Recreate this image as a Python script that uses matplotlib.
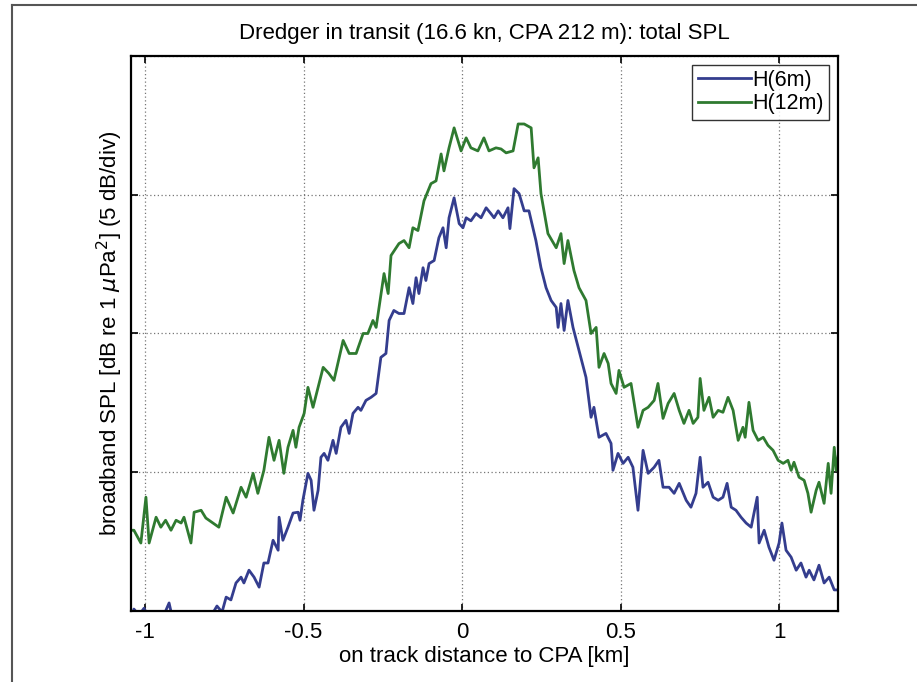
import numpy as np
import matplotlib.pyplot as plt
from matplotlib.lines import Line2D

# on-track distance to CPA [km] and broadband SPL (dB, relative to the lower axis edge)
dist_6m = [-1.041, -1.035, -1.019, -1.003, -0.987, -0.950, -0.924, -0.912, -0.855, -0.808,
           -0.773, -0.757, -0.744, -0.729, -0.713, -0.697, -0.688, -0.672, -0.656, -0.640,
           -0.625, -0.612, -0.596, -0.580, -0.577, -0.565, -0.549, -0.533, -0.517, -0.511,
           -0.502, -0.486, -0.476, -0.467, -0.454, -0.445, -0.435, -0.423, -0.407, -0.397,
           -0.382, -0.366, -0.356, -0.344, -0.328, -0.319, -0.303, -0.287, -0.271, -0.256,
           -0.240, -0.230, -0.215, -0.199, -0.183, -0.167, -0.155, -0.145, -0.136, -0.123,
           -0.114, -0.104, -0.088, -0.073, -0.060, -0.050, -0.041, -0.025, -0.009, 0.003,
           0.013, 0.028, 0.044, 0.060, 0.076, 0.091, 0.101, 0.114, 0.129, 0.145,
           0.151, 0.164, 0.180, 0.196, 0.211, 0.233, 0.249, 0.265, 0.281, 0.297,
           0.303, 0.312, 0.322, 0.334, 0.350, 0.369, 0.391, 0.407, 0.416, 0.432,
           0.454, 0.470, 0.476, 0.492, 0.508, 0.524, 0.539, 0.555, 0.571, 0.587,
           0.606, 0.621, 0.634, 0.653, 0.669, 0.685, 0.707, 0.722, 0.738, 0.751,
           0.760, 0.776, 0.792, 0.808, 0.823, 0.836, 0.849, 0.864, 0.880, 0.896,
           0.912, 0.931, 0.937, 0.953, 0.968, 0.984, 1.000, 1.009, 1.022, 1.038,
           1.054, 1.069, 1.085, 1.095, 1.110, 1.126, 1.142, 1.158, 1.174, 1.189]
spl_6m = [-0.20, 0.07, -0.15, 0.10, -0.25, -0.40, 0.29, -0.32, -0.60, -0.50,
          0.18, -0.04, 0.50, 0.40, 1.01, 1.22, 1.01, 1.47, 1.22, 0.86,
          1.73, 1.73, 2.55, 2.19, 3.38, 2.55, 3.02, 3.53, 3.56, 3.27,
          3.99, 4.96, 4.71, 3.63, 4.35, 5.54, 5.68, 5.43, 6.15, 5.68,
          6.62, 6.87, 6.40, 7.12, 7.34, 7.23, 7.59, 7.70, 7.84, 9.14,
          9.28, 10.47, 10.83, 10.72, 10.72, 11.65, 11.08, 12.01, 11.44, 12.37,
          11.91, 12.52, 12.63, 13.45, 13.81, 13.09, 14.17, 14.89, 13.96, 13.81,
          14.17, 14.06, 14.32, 14.17, 14.53, 14.32, 14.17, 14.42, 14.17, 14.53,
          13.78, 15.22, 15.04, 14.42, 14.42, 13.35, 12.37, 11.65, 11.19, 10.94,
          10.22, 11.08, 10.11, 11.19, 10.22, 9.39, 8.42, 6.98, 7.34, 6.26,
          6.40, 6.04, 5.07, 5.68, 5.32, 5.54, 5.18, 3.63, 5.79, 4.96,
          5.18, 5.43, 4.46, 4.46, 4.24, 4.60, 3.99, 3.74, 4.24, 5.54,
          4.46, 4.64, 4.10, 3.99, 4.10, 4.60, 3.74, 3.63, 3.38, 3.17,
          3.02, 4.10, 2.45, 2.91, 2.30, 1.83, 2.45, 3.17, 2.19, 1.94,
          1.47, 1.73, 1.22, 1.47, 1.12, 1.65, 1.01, 1.22, 0.76, 0.76]

dist_12m = [-1.041, -1.035, -1.013, -0.997, -0.987, -0.965, -0.950, -0.935, -0.918, -0.902,
            -0.886, -0.877, -0.855, -0.845, -0.823, -0.808, -0.776, -0.767, -0.744, -0.722,
            -0.697, -0.681, -0.659, -0.644, -0.625, -0.609, -0.593, -0.577, -0.562, -0.549,
            -0.533, -0.524, -0.514, -0.498, -0.486, -0.470, -0.438, -0.420, -0.404, -0.375,
            -0.356, -0.334, -0.312, -0.297, -0.281, -0.271, -0.246, -0.233, -0.224, -0.199,
            -0.183, -0.167, -0.155, -0.139, -0.120, -0.098, -0.082, -0.066, -0.057, -0.041,
            -0.025, -0.003, 0.013, 0.028, 0.050, 0.069, 0.085, 0.107, 0.123, 0.139,
            0.161, 0.177, 0.196, 0.218, 0.227, 0.240, 0.249, 0.271, 0.297, 0.312,
            0.322, 0.334, 0.353, 0.369, 0.391, 0.407, 0.423, 0.432, 0.448, 0.461,
            0.470, 0.486, 0.495, 0.511, 0.533, 0.555, 0.571, 0.587, 0.606, 0.618,
            0.634, 0.650, 0.669, 0.685, 0.700, 0.716, 0.729, 0.744, 0.751, 0.763,
            0.779, 0.792, 0.808, 0.823, 0.839, 0.855, 0.871, 0.886, 0.893, 0.905,
            0.918, 0.934, 0.950, 0.965, 0.981, 0.997, 1.013, 1.028, 1.038, 1.047,
            1.063, 1.079, 1.091, 1.101, 1.117, 1.126, 1.142, 1.155, 1.164, 1.174,
            1.180, 1.189]
spl_12m = [2.91, 2.91, 2.45, 4.10, 2.45, 3.38, 3.02, 3.27, 2.91, 3.27,
           3.17, 3.38, 2.45, 3.56, 3.63, 3.35, 3.09, 3.02, 4.10, 3.53,
           4.46, 4.10, 4.96, 4.24, 5.07, 6.26, 5.43, 6.15, 4.96, 5.90,
           6.51, 5.90, 6.62, 7.12, 8.06, 7.34, 8.78, 8.56, 8.31, 9.75,
           9.28, 9.28, 10.00, 10.00, 10.47, 10.22, 12.16, 11.44, 12.81, 13.24,
           13.35, 13.09, 13.81, 13.71, 14.78, 15.40, 15.50, 16.47, 15.86, 16.69,
           17.41, 16.58, 17.05, 16.69, 16.58, 17.05, 16.58, 16.69, 16.65, 16.51,
           16.58, 17.55, 17.55, 17.41, 15.97, 16.33, 15.04, 13.60, 13.09, 13.60,
           12.52, 13.35, 12.27, 11.65, 11.19, 10.00, 10.22, 8.78, 9.28, 8.92,
           8.20, 7.84, 8.67, 8.06, 8.20, 6.62, 7.23, 7.34, 7.59, 8.20,
           6.94, 7.48, 7.84, 7.23, 6.76, 7.23, 6.76, 6.98, 8.38, 7.23,
           7.70, 6.98, 7.23, 7.16, 7.70, 7.23, 6.15, 6.62, 6.26, 7.52,
           6.51, 6.15, 6.26, 5.97, 5.79, 5.43, 5.32, 5.43, 5.07, 5.36,
           4.82, 4.71, 4.24, 3.56, 4.35, 4.64, 3.88, 5.32, 4.24, 5.90,
           5.07, 5.79]

x_ticks = [-1, -0.5, 0, 0.5, 1]
x_tick_labels = ['-1', '-0.5', '0', '0.5', '1']
y_ticks = [0, 5, 10, 15, 20]

plt.rcParams['font.family'] = ['Liberation Sans', 'DejaVu Sans']

fig = plt.figure(figsize=(9.17, 6.82), dpi=100)
ax = fig.add_axes([0.1429, 0.1041, 0.771, 0.8138])

ax.plot(dist_6m, spl_6m, color='#343d8e', lw=2.0, label='H(6m)')
ax.plot(dist_12m, spl_12m, color='#2f7a30', lw=2.0, label='H(12m)')

ax.set_xlim(-1.044, 1.186)
ax.set_ylim(0, 20)
ax.set_xticks(x_ticks)
ax.set_xticklabels(x_tick_labels)
ax.set_yticks(y_ticks)
ax.set_yticklabels([])
ax.tick_params(direction='in', top=True, right=True, length=5, width=1.2,
               labelsize=16, pad=8)
ax.grid(True, color='#777777', linestyle=(0, (1, 2)), linewidth=0.9)
for s in ax.spines.values():
    s.set_linewidth(1.6)

ax.set_title('Dredger in transit (16.6 kn, CPA 212 m): total SPL', fontsize=16, pad=12)
ax.set_xlabel('on track distance to CPA [km]', fontsize=16, labelpad=2)
ax.set_ylabel(r'broadband SPL [dB re 1 $\mu$Pa$^2$] (5 dB/div)', fontsize=16, labelpad=-4)

leg = ax.legend(loc='upper right', fontsize=15.5, frameon=True, fancybox=False,
                edgecolor='black', handlelength=2.5, handletextpad=0.05,
                borderpad=0.25, labelspacing=0.1, borderaxespad=0.4)
leg.get_frame().set_linewidth(1.0)

# outer border of the scanned figure
fig.add_artist(Line2D([12 / 917, 12 / 917], [0, 1 - 5 / 682], color='#555555', lw=1.5))
fig.add_artist(Line2D([12 / 917, 1], [1 - 5 / 682, 1 - 5 / 682], color='#555555', lw=1.5))

fig.savefig('out.png', dpi=100)
